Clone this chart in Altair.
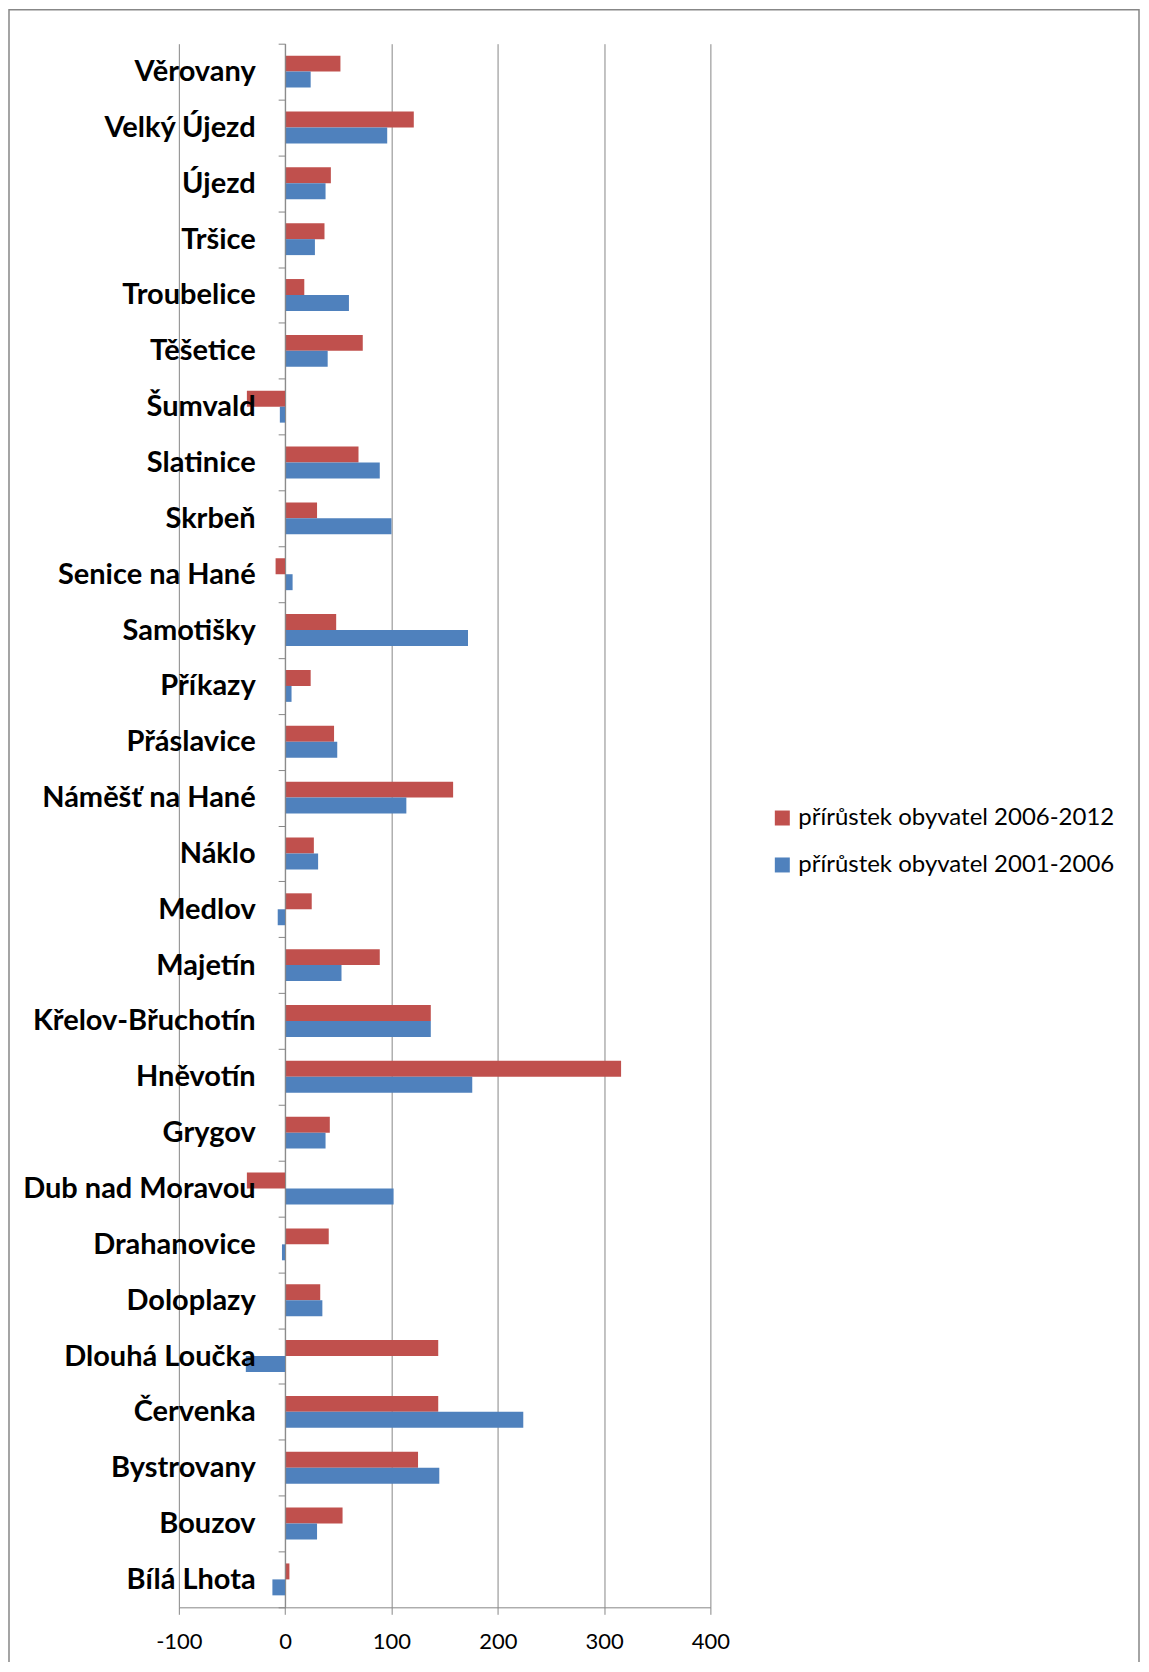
import altair as alt
import pandas as pd

categories = [
    "Věrovany", "Velký Újezd", "Újezd", "Tršice", "Troubelice", "Těšetice",
    "Šumvald", "Slatinice", "Skrbeň", "Senice na Hané", "Samotišky", "Příkazy",
    "Přáslavice", "Náměšť na Hané", "Náklo", "Medlov", "Majetín",
    "Křelov-Břuchotín", "Hněvotín", "Grygov", "Dub nad Moravou", "Drahanovice",
    "Doloplazy", "Dlouhá Loučka", "Červenka", "Bystrovany", "Bouzov", "Bílá Lhota",
]
growth_2006_2012 = [52, 121, 43, 37, 18, 73, -36, 69, 30, -9, 48, 24, 46, 158,
                    27, 25, 89, 137, 316, 42, -36, 41, 33, 144, 144, 125, 54, 4]
growth_2001_2006 = [24, 96, 38, 28, 60, 40, -5, 89, 100, 7, 172, 6, 49, 114,
                    31, -7, 53, 137, 176, 38, 102, -3, 35, -37, 224, 145, 30, -12]
series_names = ["přírůstek obyvatel 2006-2012", "přírůstek obyvatel 2001-2006"]
series_colors = ["#C0504D", "#4F81BD"]
x_ticks = [-100, 0, 100, 200, 300, 400]

rows = []
for c, a, b in zip(categories, growth_2006_2012, growth_2001_2006):
    rows.append({"obec": c, "serie": series_names[0], "hodnota": a})
    rows.append({"obec": c, "serie": series_names[1], "hodnota": b})
df = pd.DataFrame(rows)

W, H = 532, 1565
PX100 = W / 5.0
GRAY = "#878787"

bars = alt.Chart(df).mark_bar().encode(
    x=alt.X(
        "hodnota:Q",
        scale=alt.Scale(domain=[-100, 400], nice=False, zero=False),
        axis=alt.Axis(
            values=x_ticks, title=None, grid=True, gridColor=GRAY, gridWidth=1,
            domainColor=GRAY, domainWidth=1, tickColor=GRAY, tickSize=7,
            labelFontSize=22, labelFont="Lato", labelColor="black",
            labelPadding=17, labelFlush=False, labelOverlap=False,
            labelExpr="datum.value < 0 ? '-' + abs(datum.value) : '' + datum.value",
        ),
    ),
    y=alt.Y(
        "obec:N", sort=categories,
        scale=alt.Scale(paddingInner=0, paddingOuter=0),
        axis=alt.Axis(
            title=None, offset=-PX100, tickBand="extent", grid=False,
            domainColor=GRAY, domainWidth=1, tickColor=GRAY, tickSize=7,
            labelFont="Lato", labelFontSize=29, labelFontWeight="bold",
            labelColor="black", labelPadding=23, labelLimit=0, zindex=1,
        ),
    ),
    yOffset=alt.YOffset(
        "serie:N", sort=series_names,
        scale=alt.Scale(paddingInner=0, paddingOuter=0.75),
    ),
    color=alt.Color(
        "serie:N", sort=series_names,
        scale=alt.Scale(domain=series_names, range=series_colors),
        legend=alt.Legend(
            title=None, orient="none", legendX=592, legendY=763,
            symbolType="square", symbolSize=225, symbolStrokeWidth=0,
            labelFont="Lato", labelFontSize=24, labelColor="black",
            labelOffset=4, rowPadding=23, padding=0, labelLimit=0,
        ),
    ),
)

border = alt.Chart(pd.DataFrame({"a": [0]})).mark_rect(
    filled=False, stroke=GRAY, strokeWidth=1.5
).encode(
    x=alt.value(-170), x2=alt.value(961), y=alt.value(-34), y2=alt.value(1700)
)

chart = alt.layer(border, bars).properties(
    width=W, height=H,
    autosize=alt.AutoSizeParams(type="none"),
    padding={"left": 171, "top": 35, "right": 431, "bottom": 54},
).configure_view(stroke=None)

chart.save("out.html", embed_options={"renderer": "svg", "actions": False})
